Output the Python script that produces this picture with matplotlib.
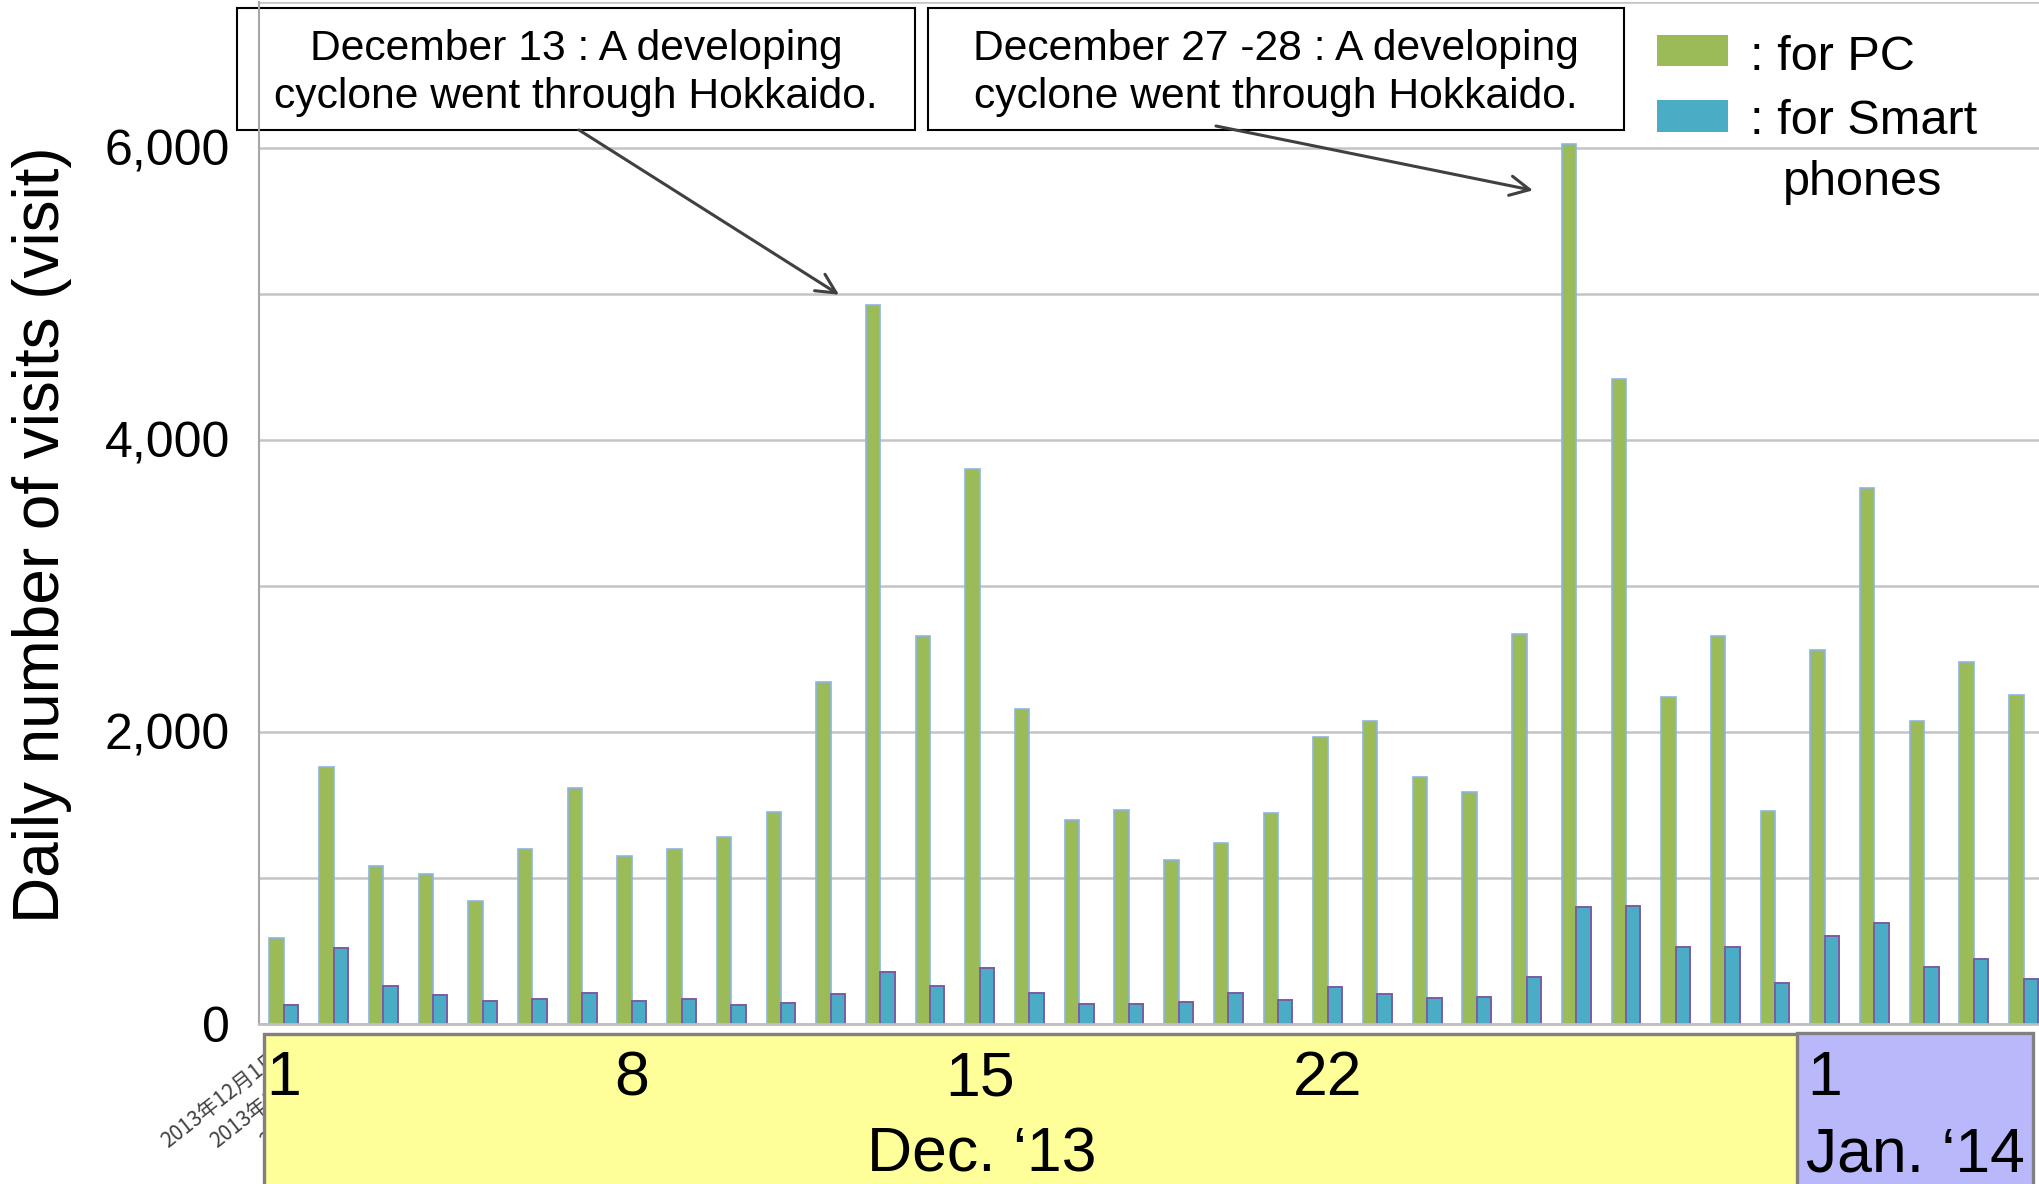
import matplotlib
matplotlib.use("Agg")
import matplotlib.pyplot as plt
import matplotlib.transforms as mtransforms
from matplotlib import font_manager
from matplotlib.patches import Rectangle
import numpy as np

plt.rcParams["font.family"] = ["Liberation Sans", "DejaVu Sans"]
installed = {f.name for f in font_manager.fontManager.ttflist}
has_narrow = "Liberation Sans Narrow" in installed

## data: daily visits, 1 Dec 2013 - 5 Jan 2014 ##

dec_days = list(range(1, 32))
jan_days = list(range(1, 6))
dates = [f"2013年12月{d}日" for d in dec_days] + [f"2014年1月{d}日" for d in jan_days]

pc_visits = [589, 1758, 1080, 1027, 845, 1196, 1617, 1153, 1196, 1283,
             1453, 2342, 4925, 2660, 3803, 2160, 1399, 1469, 1123, 1239,
             1442, 1968, 2077, 1695, 1588, 2670, 6030, 4415, 2240, 2655, 1462,
             2565, 3670, 2078, 2478, 2255]
phone_visits = [132, 520, 262, 196, 158, 168, 214, 160, 168, 132,
                141, 203, 358, 260, 386, 215, 135, 137, 148, 215,
                162, 256, 203, 176, 188, 320, 799, 810, 526, 526, 279,
                604, 691, 389, 446, 309]

mark_idx = [0, 7, 14, 21, 31]
mark_days = ["1", "8", "15", "22", "1"]
month_labels = ["Dec. \u201813", "Jan. \u201814"]
notes = ["December 13 : A developing\ncyclone went through Hokkaido.",
         "December 27 -28 : A developing\ncyclone went through Hokkaido."]
note_idx = [12, 26]

## figure ##

W, H = 2040, 1184
fig = plt.figure(figsize=(W / 100, H / 100), dpi=100)
# pixel coords measured from the top-left corner
px = mtransforms.Affine2D().scale(1 / W, -1 / H).translate(0, 1) + fig.transFigure

ax = fig.add_axes([259 / W, 1 - 1024 / H, (W - 259) / W, (1024 - 2) / H])
ax.patch.set_visible(False)

x = np.arange(len(dates))
w = 0.29
ax.bar(x - w / 2, pc_visits, w, color="#9bbb59", edgecolor="#8db4e2", linewidth=1.2, zorder=2)
ax.bar(x + w / 2, phone_visits, w, color="#4bacc6", edgecolor="#7a5ca6", linewidth=1.4, zorder=2)

ax.set_yticks([0, 2000, 4000, 6000], ["0", "2,000", "4,000", "6,000"])
ax.set_yticks([1000, 3000, 5000, 7000], minor=True)
ax.grid(axis="y", which="both", color="#c4c4c4", linewidth=1.8)
ax.set_axisbelow(True)
ax.tick_params(axis="y", which="both", length=0, pad=21)
for lab in ax.get_yticklabels():
    if has_narrow:
        lab.set_family(["Liberation Sans Narrow", "Liberation Sans"])
        lab.set_fontsize(42)
    else:
        lab.set_fontsize(36)

ax.set_xticks(x, dates, rotation=38, ha="right", fontsize=15,
              family=["Noto Sans CJK JP", "DejaVu Sans"], color="#404040")
ax.tick_params(axis="x", length=0, pad=16)

for s in ["top", "right"]:
    ax.spines[s].set_visible(False)
ax.spines["left"].set_color("#a6a6a6")
ax.spines["left"].set_linewidth(1.5)
ax.spines["bottom"].set_color("#bfbfbf")
ax.spines["bottom"].set_linewidth(2)

# month bands under the axis (x in data, y in pixels)
band = mtransforms.blended_transform_factory(ax.transData, px)
ax.add_patch(Rectangle((-0.4, 1034), 30.87, 220, transform=band, facecolor="#ffff99",
                       edgecolor="#808080", linewidth=2.4, clip_on=False, zorder=5))
ax.add_patch(Rectangle((30.45, 1033), 4.74, 220, transform=band, facecolor="#b8b8fa",
                       edgecolor="#808080", linewidth=2.4, clip_on=False, zorder=5))
for i, s in zip(mark_idx, mark_days):
    ax.text(i, 1095, s, transform=band, ha="center", va="baseline", fontsize=45,
            zorder=6, clip_on=False)
for xm, s in zip([14.05, 32.82], month_labels):
    ax.text(xm, 1171, s, transform=band, ha="center", va="baseline", fontsize=45,
            zorder=6, clip_on=False)

ax.set_xlim(-0.5, 35.33)
ax.set_ylim(0, 7000)

# y label
fig.text(42, 535, "Daily number of visits (visit)", transform=px, rotation=90,
         ha="center", va="center", fontsize=46)

# annotation boxes and arrows
boxes = [(237, 8, 678, 122), (928, 8, 696, 122)]
starts = [(579, 130), (1216, 126)]
targets = [(note_idx[0] - 0.83, pc_visits[note_idx[0]] + 70),
           (note_idx[1] - 0.87, pc_visits[note_idx[1]] - 320)]
for (bx, by, bw, bh), txt, st, tg in zip(boxes, notes, starts, targets):
    fig.add_artist(Rectangle((bx, by), bw, bh, transform=px, facecolor="white",
                             edgecolor="black", linewidth=1.5, zorder=-1))
    fig.text(bx + bw / 2, by + bh / 2 + 4, txt, transform=px, ha="center", va="center",
             fontsize=30.7, linespacing=1.27)
    ax.annotate("", xy=tg, xycoords="data", xytext=st, textcoords=px,
                arrowprops=dict(arrowstyle="->", color="#404040", lw=2.2,
                                mutation_scale=35, shrinkA=0, shrinkB=0))

# legend
fig.add_artist(Rectangle((1657, 35), 71, 31, transform=px, facecolor="#9bbb59", linewidth=0))
fig.add_artist(Rectangle((1657, 100), 71, 32, transform=px, facecolor="#4bacc6", linewidth=0))
fig.text(1750, 70, ": for PC", transform=px, va="baseline", fontsize=35)
fig.text(1750, 134, ": for Smart", transform=px, va="baseline", fontsize=35)
fig.text(1783, 195, "phones", transform=px, va="baseline", fontsize=35)

fig.savefig("out.png", dpi=100)
